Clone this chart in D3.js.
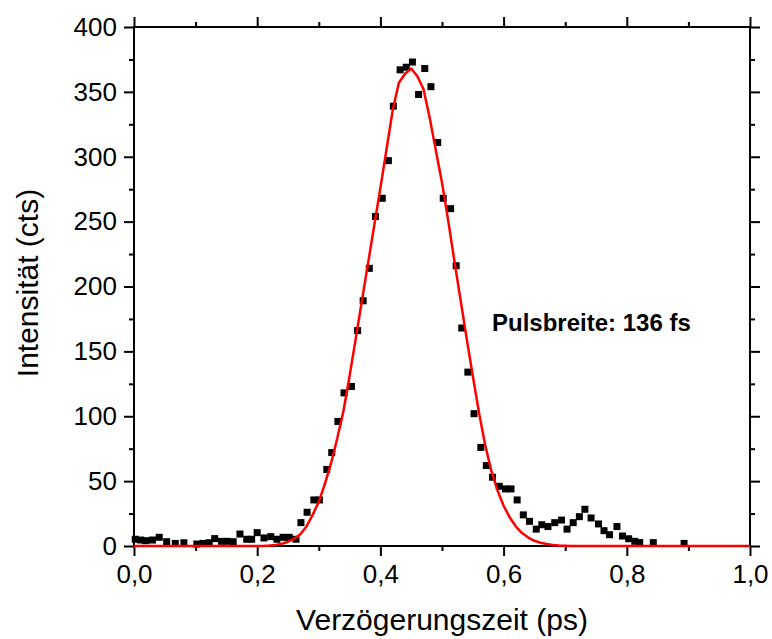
<!DOCTYPE html>
<html>
<head>
<meta charset="utf-8">
<script src="https://cdn.jsdelivr.net/npm/d3@7/dist/d3.min.js"></script>
<style>
    body { margin: 0; background: #fff; }
    svg text { font-family: Arial, "Liberation Sans", sans-serif; fill: #000; }
</style>
</head>
<body>
<div id="svg-container"></div>
<script>
    // Messwerte (Autokorrelation)
    var delayPs = [0.002, 0.011, 0.019, 0.030, 0.041, 0.053, 0.067, 0.081, 0.102, 0.112, 0.122, 0.131,
        0.142, 0.151, 0.161, 0.172, 0.183, 0.191, 0.200, 0.211, 0.222, 0.232, 0.242, 0.252, 0.263,
        0.271, 0.281, 0.292, 0.301, 0.313, 0.321, 0.331, 0.341, 0.353, 0.363, 0.372, 0.382, 0.392,
        0.403, 0.413, 0.421, 0.432, 0.442, 0.452, 0.462, 0.472, 0.482, 0.493, 0.502, 0.514, 0.523,
        0.532, 0.542, 0.552, 0.563, 0.572, 0.582, 0.593, 0.603, 0.612, 0.622, 0.632, 0.642, 0.653,
        0.662, 0.672, 0.683, 0.694, 0.703, 0.713, 0.723, 0.732, 0.742, 0.754, 0.763, 0.772, 0.784,
        0.793, 0.803, 0.813, 0.821, 0.843, 0.893];
    var intensity = [5.2, 4.6, 4.1, 4.6, 6.7, 3.3, 2, 2.5, 1.5, 2, 2.5, 5.7,
        3.6, 3.6, 3.3, 9.2, 5.2, 5.2, 10.3, 6.2, 7.2, 5.2, 6.7, 6.7, 5.2,
        18, 26, 35.5, 35.5, 59, 72, 96, 118, 123, 166, 189, 214, 254,
        268, 297, 339, 367, 369, 373, 348, 368, 354, 311, 268, 260, 216,
        168, 134, 102, 76, 62, 53, 46, 44, 44, 35.5, 24, 19, 13,
        16.4, 15, 18, 20, 13, 18, 22.6, 28.3, 21.6, 17, 11.8, 8.7, 15,
        7.7, 5.6, 3.6, 2.6, 2.6, 2];

    // Fitkurve
    var fitX = [0, 0.21, 0.22, 0.23, 0.24, 0.25, 0.26, 0.27, 0.28, 0.29, 0.30, 0.31, 0.32, 0.33, 0.34,
        0.35, 0.36, 0.37, 0.38, 0.39, 0.40, 0.41, 0.42, 0.43, 0.44, 0.45, 0.46, 0.47, 0.48, 0.49,
        0.50, 0.51, 0.52, 0.53, 0.54, 0.55, 0.56, 0.57, 0.58, 0.59, 0.60, 0.61, 0.62, 0.63, 0.64,
        0.65, 0.66, 0.67, 0.68, 0.69, 0.70, 0.71, 1.0];
    var fitY = [0, 0, 0.3, 0.8, 1.7, 3.3, 5.5, 9, 15, 24, 34, 48, 64, 83, 104,
        131, 160, 189, 218, 247, 276, 306, 336, 357, 364, 368, 362, 352, 330, 305,
        280, 251, 220, 190, 160, 131, 103, 78, 58, 43, 31, 22, 15, 10, 6.5,
        4, 2.5, 1.5, 0.8, 0.4, 0.2, 0, 0];

    var xMajor = [0, 0.2, 0.4, 0.6, 0.8, 1.0];
    var xMinor = [0.1, 0.3, 0.5, 0.7, 0.9];
    var yMajor = [0, 50, 100, 150, 200, 250, 300, 350, 400];
    var yMinor = [25, 75, 125, 175, 225, 275, 325, 375];

    var width = 772, height = 639;
    var pLeft = 134, pRight = 750, pTop = 27, pBottom = 546;

    var svg = d3.select("#svg-container").append("svg")
        .attr("width", width)
        .attr("height", height);

    var x = d3.scaleLinear().domain([0, 1]).range([pLeft, pRight]);
    var y = d3.scaleLinear().domain([0, 400]).range([pBottom, pTop]);

    var fmt = function (d) { return d3.format(".1f")(d).replace(".", ","); };

    // Achsen unten / oben
    svg.append("g").attr("transform", "translate(0," + pBottom + ")")
        .call(d3.axisBottom(x).tickValues(xMajor).tickSize(10).tickPadding(9).tickFormat(fmt));
    svg.append("g").attr("transform", "translate(0," + pBottom + ")")
        .call(d3.axisBottom(x).tickValues(xMinor).tickSize(5).tickFormat(""));
    svg.append("g").attr("transform", "translate(0," + pTop + ")")
        .call(d3.axisTop(x).tickValues(xMajor).tickSize(10).tickFormat(""));
    svg.append("g").attr("transform", "translate(0," + pTop + ")")
        .call(d3.axisTop(x).tickValues(xMinor).tickSize(5).tickFormat(""));

    // Achsen links / rechts
    svg.append("g").attr("transform", "translate(" + pLeft + ",0)")
        .call(d3.axisLeft(y).tickValues(yMajor).tickSize(10).tickPadding(7));
    svg.append("g").attr("transform", "translate(" + pLeft + ",0)")
        .call(d3.axisLeft(y).tickValues(yMinor).tickSize(5).tickFormat(""));
    svg.append("g").attr("transform", "translate(" + pRight + ",0)")
        .call(d3.axisRight(y).tickValues(yMajor).tickSize(10).tickFormat(""));
    svg.append("g").attr("transform", "translate(" + pRight + ",0)")
        .call(d3.axisRight(y).tickValues(yMinor).tickSize(5).tickFormat(""));

    svg.selectAll(".domain").remove();
    svg.selectAll(".tick line").attr("stroke", "#000").attr("stroke-width", 2);
    svg.selectAll(".tick text")
        .style("font-size", "26px")
        .style("font-family", "Arial, 'Liberation Sans', sans-serif")
        .attr("fill", "#000");

    // Rahmen
    svg.append("rect")
        .attr("x", pLeft)
        .attr("y", pTop)
        .attr("width", pRight - pLeft)
        .attr("height", pBottom - pTop)
        .attr("fill", "none")
        .attr("stroke", "#000")
        .attr("stroke-width", 2);

    // Messpunkte
    var pts = d3.range(delayPs.length);
    svg.append("g").selectAll("rect")
        .data(pts)
        .enter().append("rect")
        .attr("x", function (i) { return x(delayPs[i]) - 3.5; })
        .attr("y", function (i) { return y(intensity[i]) - 3.5; })
        .attr("width", 7)
        .attr("height", 7)
        .attr("fill", "#000");

    // Fit
    var line = d3.line()
        .x(function (i) { return x(fitX[i]); })
        .y(function (i) { return y(fitY[i]); });
    svg.append("path")
        .datum(d3.range(fitX.length))
        .attr("d", line)
        .attr("fill", "none")
        .attr("stroke", "#ff0000")
        .attr("stroke-width", 2.5)
        .attr("stroke-linejoin", "round");

    // Beschriftungen
    svg.append("text")
        .attr("x", (pLeft + pRight) / 2)
        .attr("y", 630)
        .attr("text-anchor", "middle")
        .style("font-size", "30px")
        .text("Verzögerungszeit (ps)");

    svg.append("text")
        .attr("transform", "translate(38,283) rotate(-90)")
        .attr("text-anchor", "middle")
        .style("font-size", "30px")
        .text("Intensität (cts)");

    svg.append("text")
        .attr("x", 492)
        .attr("y", 331)
        .style("font-size", "24px")
        .style("font-weight", "bold")
        .text("Pulsbreite: 136 fs");
</script>
</body>
</html>
